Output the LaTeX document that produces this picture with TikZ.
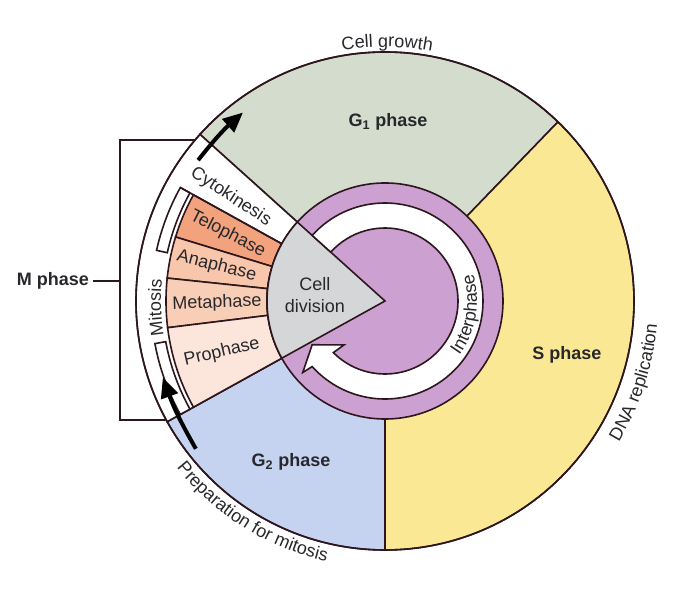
\documentclass[tikz,border=0pt]{standalone}
\usepackage{fontspec}
\setmainfont{Liberation Sans}
\usetikzlibrary{arrows.meta,decorations.text}
\definecolor{gonecol}{RGB}{211,220,205}
\definecolor{scol}{RGB}{250,232,148}
\definecolor{gtwocol}{RGB}{197,211,240}
\definecolor{ringcol}{RGB}{204,160,208}
\definecolor{divcol}{RGB}{212,214,216}
\definecolor{telocol}{RGB}{242,163,125}
\definecolor{anacol}{RGB}{248,198,170}
\definecolor{metacol}{RGB}{249,206,182}
\definecolor{procol}{RGB}{252,230,220}
\definecolor{linecol}{RGB}{45,22,30}
\definecolor{txtcol}{RGB}{40,40,44}
\newcommand{\arcfont}{\fontsize{13.5}{16}\selectfont}
\newcommand{\band}[5]{\filldraw[edge, fill=#5] (#1:#3) arc[start angle=#1, end angle=#2, radius=#3] -- (#2:#4) arc[start angle=#2, end angle=#1, radius=#4] -- cycle;}
\tikzset{
  edge/.style={draw=linecol, line width=1.2pt},
  lbl/.style={text=txtcol, font=\arcfont, inner sep=0pt},
  boldlbl/.style={lbl, font=\arcfont\bfseries},
  cyclearrow/.style={line width=3pt, -{Triangle[length=15pt,width=13pt]}},
  arclabel/.style={decorate, decoration={text along path, text align=center, text color=txtcol, text={|\arcfont|#1}}}
}
\begin{document}
\begin{tikzpicture}[x=0.75pt, y=0.75pt]
  \useasboundingbox (-385,-290) rectangle (289,301);

  \filldraw[edge, fill=gonecol] (0,0) -- (46:249) arc[start angle=46, end angle=138, radius=249] -- cycle;
  \filldraw[edge, fill=scol] (0,0) -- (-90:249) arc[start angle=-90, end angle=46, radius=249] -- cycle;
  \filldraw[edge, fill=gtwocol] (0,0) -- (209:249) arc[start angle=209, end angle=270, radius=249] -- cycle;
  \filldraw[edge, fill=white] (0,0) -- (138:249) arc[start angle=138, end angle=209, radius=249] -- cycle;

  \band{151}{163}{118}{219}{telocol}
  \band{163}{174}{118}{219}{anacol}
  \band{174}{187}{118}{219}{metacol}
  \band{187}{209}{118}{219}{procol}
  \band{151}{167.5}{223}{234}{white}
  \band{190.5}{209}{223}{234}{white}
  \draw[edge] (151:118) -- (151:234);

  \filldraw[edge, fill=ringcol] (0,0) circle[radius=118];
  \filldraw[edge, fill=divcol] (0,0) -- (138:118) arc[start angle=138, end angle=209, radius=118] -- cycle;
  \filldraw[edge, fill=white] (138:98) arc[start angle=138, end angle=-138, radius=98]
    -- (-139:109) -- (-149:85) -- (-133:60) -- (-135:73)
    arc[start angle=-135, end angle=138, radius=73] -- cycle;
  \draw[edge] (0,0) circle[radius=249];

  \coordinate (topfrom) at (143:234);
  \coordinate (topto) at (127:236);
  \coordinate (botfrom) at (218:240);
  \coordinate (botto) at (199:235);
  \draw[cyclearrow] (topfrom) to[bend left=5] (topto);
  \draw[cyclearrow] (botfrom) to[bend left=5] (botto);

  \node[boldlbl] (gone) at (3,179) {G\textsubscript{1} phase};
  \node[boldlbl] (sph) at (182,-54) {S phase};
  \node[boldlbl] (gtwo) at (-94,-161) {G\textsubscript{2} phase};
  \node[lbl, align=center] (celldiv) at (-70,6) {Cell\\division};
  \node[lbl, rotate=-33] (cyto) at (146:186) {Cytokinesis};
  \node[lbl, rotate=-27] (telo) at (156.9:171) {Telophase};
  \node[lbl, rotate=-14] (ana) at (168.3:172) {Anaphase};
  \node[lbl, rotate=2] (meta) at (180.7:168) {Metaphase};
  \node[lbl, rotate=13] (pro) at (197.4:171) {Prophase};

  \path[arclabel=Cell growth] (105:254) arc[start angle=105, end angle=74, radius=254];
  \path[arclabel=DNA replication] (-40:273) arc[start angle=-40, end angle=4, radius=273];
  \path[arclabel=Preparation for mitosis] (208:267) arc[start angle=208, end angle=268, radius=267];
  \path[arclabel=Interphase] (-45:92) arc[start angle=-45, end angle=26, radius=92];
  \path[arclabel=Mitosis] (196:224) arc[start angle=196, end angle=167.4, radius=224];

  \node[boldlbl] (mphase) at (-332,20) {M phase};
  \coordinate (bk) at (-265,0);
  \coordinate (mtop) at (139.7:249);
  \coordinate (mbot) at (208.5:249);
  \draw[edge] (mtop) -- (mtop -| bk) -- (mbot -| bk) -- (mbot);
  \draw[edge] (mphase.east) ++(4,0) -- (mphase -| bk);
\end{tikzpicture}
\end{document}
